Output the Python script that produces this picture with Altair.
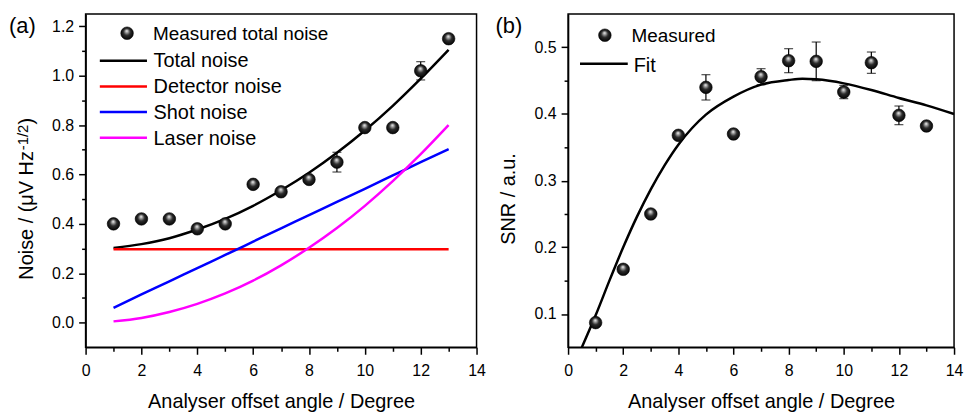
import altair as alt
import pandas as pd

# ---------------- data ----------------
angle = [1, 2, 3, 4, 5, 6, 7, 8, 9, 10, 11, 12, 13]

noise_measured = [0.40, 0.42, 0.42, 0.38, 0.40, 0.56, 0.53, 0.58, 0.65, 0.79, 0.79, 1.02, 1.15]
noise_err = [0.008, 0.008, 0.008, 0.010, 0.008, 0.010, 0.010, 0.010, 0.040, 0.010, 0.015, 0.037, 0.010]

curve_angle = [1, 2, 3, 4, 5, 6, 7, 8, 9, 10, 11, 12, 13]
total_noise = [0.302, 0.318, 0.342, 0.377, 0.420, 0.473, 0.536, 0.607, 0.688, 0.778, 0.878, 0.988, 1.105]
detector_noise = [0.297, 0.297, 0.297, 0.297, 0.297, 0.297, 0.297, 0.297, 0.297, 0.297, 0.297, 0.297, 0.297]
shot_noise = [0.060, 0.114, 0.167, 0.221, 0.274, 0.328, 0.382, 0.435, 0.489, 0.542, 0.596, 0.650, 0.703]
laser_noise = [0.005, 0.019, 0.043, 0.076, 0.118, 0.170, 0.232, 0.303, 0.383, 0.473, 0.573, 0.682, 0.800]

series_names = ["Total noise", "Detector noise", "Shot noise", "Laser noise"]
series_colors = ["#000000", "#ff0000", "#0000ff", "#ff00ff"]

snr_measured = [0.087, 0.167, 0.250, 0.368, 0.440, 0.370, 0.456, 0.480, 0.479, 0.433, 0.477, 0.398, 0.382]
snr_err = [0.004, 0.004, 0.004, 0.005, 0.019, 0.005, 0.012, 0.018, 0.029, 0.010, 0.016, 0.014, 0.005]

fit_angle = [0.5, 1, 1.5, 2, 2.5, 3, 3.5, 4, 4.5, 5, 6, 7, 8, 8.5, 9, 10, 11, 12, 13, 14]
fit_snr = [0.050, 0.098, 0.150, 0.200, 0.246, 0.287, 0.323, 0.354, 0.379, 0.399, 0.426, 0.444,
           0.451, 0.453, 0.452, 0.446, 0.436, 0.424, 0.413, 0.400]

x_ticks = list(range(0, 15))
noise_ticks = [round(0.1 * i, 1) for i in range(0, 13)]
snr_ticks = [round(0.05 * i, 2) for i in range(2, 11)]

# ---------------- tables ----------------
lines_df = pd.concat([
    pd.DataFrame({"x": curve_angle, "y": vals, "series": name})
    for name, vals in zip(series_names, [total_noise, detector_noise, shot_noise, laser_noise])
])
noise_df = pd.DataFrame({"x": angle, "y": noise_measured,
                         "lo": [v - e for v, e in zip(noise_measured, noise_err)],
                         "hi": [v + e for v, e in zip(noise_measured, noise_err)]})
snr_df = pd.DataFrame({"x": angle, "y": snr_measured,
                       "lo": [v - e for v, e in zip(snr_measured, snr_err)],
                       "hi": [v + e for v, e in zip(snr_measured, snr_err)]})
fit_df = pd.DataFrame({"x": fit_angle, "y": fit_snr})
one = pd.DataFrame({"k": [0]})

FONT = "Liberation Sans"
W, H = 393, 335

sphere = alt.RadialGradient(
    gradient="radial", x1=0.47, y1=0.3, r1=0.0, x2=0.5, y2=0.5, r2=0.55,
    stops=[alt.GradientStop(offset=0.0, color="#ffffff"),
           alt.GradientStop(offset=0.16, color="#b5b5b5"),
           alt.GradientStop(offset=0.5, color="#2b2b2b"),
           alt.GradientStop(offset=1.0, color="#000000")])


def x_axis():
    return alt.Axis(values=x_ticks, format="d", grid=False, labelFlush=False,
                    labelExpr="datum.value % 2 == 0 ? datum.label : ''",
                    tickSize={"condition": {"test": "datum.value % 2 == 0", "value": 7}, "value": 4},
                    labelPadding=8, titlePadding=14, title="Analyser offset angle / Degree")


def noise_axis():
    return alt.Axis(values=noise_ticks, grid=False, title=None, labelFlush=False, labelPadding=5,
                    labelExpr="round(datum.value * 10) % 2 == 0 ? format(datum.value, '.1f') : ''",
                    tickSize={"condition": {"test": "round(datum.value * 10) % 2 == 0", "value": 7}, "value": 4})


def snr_axis():
    return alt.Axis(values=snr_ticks, grid=False, title=None, labelFlush=False, labelPadding=5,
                    labelExpr="round(datum.value * 100) % 10 == 0 ? format(datum.value, '.1f') : ''",
                    tickSize={"condition": {"test": "round(datum.value * 100) % 10 == 0", "value": 7}, "value": 4})


def X(field="x"):
    return alt.X(f"{field}:Q", scale=alt.Scale(domain=[0, 14], nice=False, zero=False), axis=x_axis())


def Yn(field="y"):
    return alt.Y(f"{field}:Q", scale=alt.Scale(domain=[-0.1, 1.25], nice=False, zero=False), axis=noise_axis())


def Ys(field="y"):
    return alt.Y(f"{field}:Q", scale=alt.Scale(domain=[0.05, 0.55], nice=False, zero=False), axis=snr_axis())


def text_at(txt, x, y, size, angle=0, align="left"):
    kw = dict(text=txt, font=FONT, fontSize=size, align=align, baseline="alphabetic", color="black")
    if angle:
        kw["angle"] = angle
    return alt.Chart(one).mark_text(**kw).encode(x=alt.value(x), y=alt.value(y))


def sphere_at(x, y):
    return alt.Chart(one).mark_point(filled=True, fill=sphere, size=160, stroke="black",
                                     strokeWidth=0.6, opacity=1).encode(x=alt.value(x), y=alt.value(y))


def line_at(x1, x2, y, color):
    return alt.Chart(one).mark_rule(color=color, strokeWidth=2.5).encode(
        x=alt.value(x1), x2=alt.value(x2), y=alt.value(y))


def measured_layers(df, Yf):
    bars = alt.Chart(df).mark_rule(color="black", strokeWidth=1.2).encode(x=X(), y=Yf("lo"), y2="hi")
    cap_hi = alt.Chart(df).mark_tick(color="black", size=9, thickness=1.2, orient="horizontal").encode(x=X(), y=Yf("hi"))
    cap_lo = alt.Chart(df).mark_tick(color="black", size=9, thickness=1.2, orient="horizontal").encode(x=X(), y=Yf("lo"))
    pts = alt.Chart(df).mark_point(filled=True, fill=sphere, size=160, stroke="black",
                                   strokeWidth=0.6, opacity=1).encode(x=X(), y=Yf("y"))
    return [bars, cap_hi, cap_lo, pts]


# ---------------- panel (a) ----------------
noise_lines = alt.Chart(lines_df).mark_line(strokeWidth=2.5, interpolate="monotone", clip=True).encode(
    x=X(), y=Yn(),
    color=alt.Color("series:N", scale=alt.Scale(domain=series_names, range=series_colors), legend=None),
    order=alt.Order("x:Q"))

legend_a = [sphere_at(41.7, 19.3), text_at("Measured total noise", 67.7, 26, 19)]
for i, (name, col) in enumerate(zip(series_names, series_colors)):
    legend_a.append(line_at(14.3, 61.7, 47 + 25.8 * i, col))
    legend_a.append(text_at(name, 68.3, 53.7 + 26 * i, 20))

ytitle_a = [text_at("Noise / (\u03bcV Hz", -53, 267, 20, angle=270),
            text_at("-1/2", -58, 137, 15, angle=270),
            text_at(")", -53, 111, 20, angle=270)]

panel_a = alt.layer(noise_lines, *measured_layers(noise_df, Yn), *legend_a, *ytitle_a,
                    text_at("(a)", -77, 19, 22)).properties(width=W, height=H)

# ---------------- panel (b) ----------------
fit_line = alt.Chart(fit_df).mark_line(color="black", strokeWidth=2.5, interpolate="monotone", clip=True).encode(
    x=X(), y=Ys())

legend_b = [sphere_at(37, 21.3), text_at("Measured", 63.7, 28.3, 19),
            line_at(12, 60, 50, "black"), text_at("Fit", 66, 58, 20)]

panel_b = alt.layer(fit_line, *measured_layers(snr_df, Ys), *legend_b,
                    text_at("SNR / a.u.", -53, 232, 20, angle=270),
                    text_at("(b)", -73, 19, 22)).properties(width=388, height=H)

chart = alt.hconcat(panel_a, panel_b, spacing=8).properties(
    padding={"left": 0, "top": 4, "right": 0, "bottom": 0}
).configure(background="white").configure_view(stroke="black", strokeWidth=1.5).configure_axis(
    domainColor="black", domainWidth=1.5, tickColor="black", tickWidth=1.5,
    labelFont=FONT, labelFontSize=16, labelColor="black",
    titleFont=FONT, titleFontSize=20, titleFontWeight="normal", titleColor="black"
)

chart.save("out.html", embed_options={"renderer": "svg", "actions": False})
